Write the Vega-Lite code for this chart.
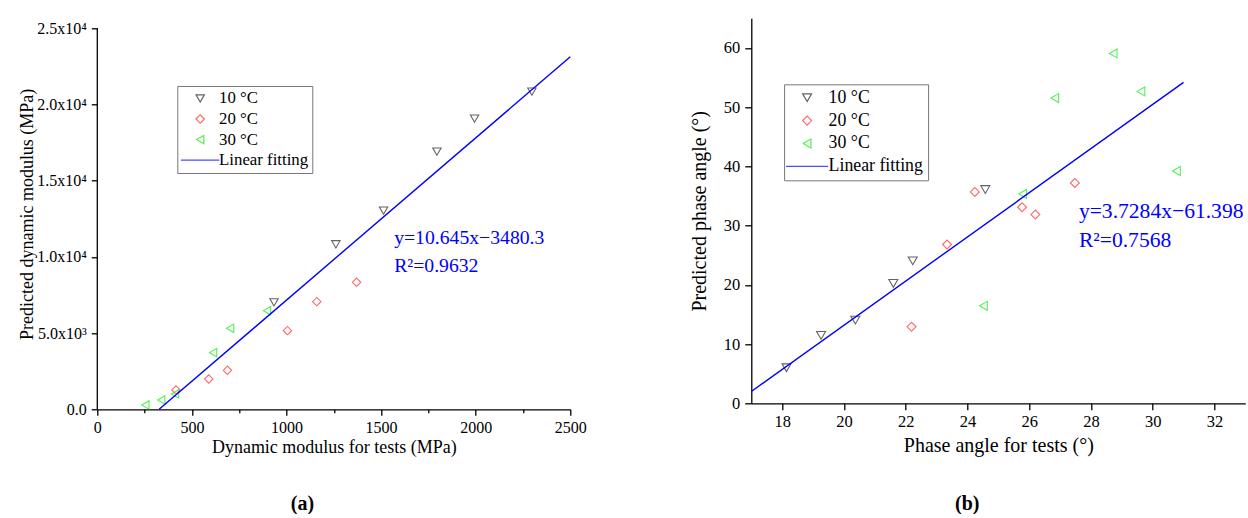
{
  "$schema": "https://vega.github.io/schema/vega-lite/v6.json",
  "background": "white",
  "padding": {"left": 18.3, "top": 18.3, "right": 5, "bottom": 0},
  "config": {
    "view": {"stroke": null},
    "font": "Liberation Serif",
    "axis": {"grid": false, "domainColor": "#000", "tickColor": "#000", "labelColor": "#000", "titleColor": "#000", "labelFont": "Liberation Serif", "titleFont": "Liberation Serif", "titleFontWeight": "normal", "domainWidth": 1.3, "tickWidth": 1.3, "labelOverlap": false, "labelFlush": false},
    "axisX": {"labelOverlap": false}
  },
  "datasets": {
    "left": [
      {"series": "10 °C", "x": 934, "y": 7021},
      {"series": "10 °C", "x": 1261, "y": 10827},
      {"series": "10 °C", "x": 1513, "y": 13036},
      {"series": "10 °C", "x": 1795, "y": 16907},
      {"series": "10 °C", "x": 1994, "y": 19073},
      {"series": "10 °C", "x": 2297, "y": 20844},
      {"series": "20 °C", "x": 416, "y": 1269},
      {"series": "20 °C", "x": 589, "y": 1990},
      {"series": "20 °C", "x": 688, "y": 2559},
      {"series": "20 °C", "x": 1005, "y": 5162},
      {"series": "20 °C", "x": 1160, "y": 7065},
      {"series": "20 °C", "x": 1370, "y": 8333},
      {"series": "30 °C", "x": 254, "y": 284},
      {"series": "30 °C", "x": 338, "y": 612},
      {"series": "30 °C", "x": 411, "y": 1006},
      {"series": "30 °C", "x": 612, "y": 3718},
      {"series": "30 °C", "x": 702, "y": 5315},
      {"series": "30 °C", "x": 897, "y": 6474}
    ],
    "leftaxis": [{"x": 0, "y": 0, "y2": 25000}],
    "leftfit": [{"x": 326.94, "y": 0}, {"x": 2500, "y": 23132.2}],
    "lefttext": [
      {"x": 1569, "y": 10846, "label": "y=10.645x−3480.3"},
      {"x": 1569, "y": 9029, "label": "R²=0.9632"}
    ],
    "right": [
      {"series": "10 °C", "x": 18.14, "y": 6.0},
      {"series": "10 °C", "x": 19.26, "y": 11.47},
      {"series": "10 °C", "x": 20.37, "y": 14.05},
      {"series": "10 °C", "x": 21.6, "y": 20.24},
      {"series": "10 °C", "x": 22.23, "y": 24.05},
      {"series": "10 °C", "x": 24.58, "y": 36.09},
      {"series": "20 °C", "x": 22.19, "y": 12.92},
      {"series": "20 °C", "x": 23.34, "y": 26.81},
      {"series": "20 °C", "x": 24.24, "y": 35.68},
      {"series": "20 °C", "x": 25.77, "y": 33.1},
      {"series": "20 °C", "x": 26.2, "y": 31.87},
      {"series": "20 °C", "x": 27.48, "y": 37.2},
      {"series": "30 °C", "x": 24.52, "y": 16.46},
      {"series": "30 °C", "x": 25.79, "y": 35.35},
      {"series": "30 °C", "x": 26.83, "y": 51.53},
      {"series": "30 °C", "x": 28.72, "y": 59.07},
      {"series": "30 °C", "x": 29.62, "y": 52.66},
      {"series": "30 °C", "x": 30.77, "y": 39.22}
    ],
    "rightfit": [{"x": 17, "y": 1.9848}, {"x": 31, "y": 54.1824}],
    "righttext": [
      {"x": 27.61, "y": 31.2, "label": "y=3.7284x−61.398"},
      {"x": 27.61, "y": 26.4, "label": "R²=0.7568"}
    ]
  },
  "resolve": {"scale": {"color": "independent", "shape": "independent"}, "legend": {"color": "independent", "shape": "independent"}},
  "spacing": 103,
  "align": "none",
  "hconcat": [
    {
      "width": 473,
      "height": 391,
      "title": {"text": "(a)", "orient": "bottom", "anchor": "middle", "frame": "bounds", "fontSize": 20, "fontWeight": "bold", "font": "Liberation Serif", "offset": 38, "color": "#000"},
      "layer": [
        {
          "data": {"name": "left"},
          "mark": {"type": "point", "filled": false, "size": 70, "strokeWidth": 1.1},
          "encoding": {
            "x": {"field": "x", "type": "quantitative", "scale": {"domain": [0, 2500], "nice": false, "zero": false},
              "axis": {"title": "Dynamic modulus for tests (MPa)", "values": [0, 250, 500, 750, 1000, 1250, 1500, 1750, 2000, 2250, 2500], "format": "d", "labelOverlap": false, "labelExpr": "datum.value % 500 === 0 ? datum.label : ''", "tickSize": {"condition": {"test": "datum.value % 500 === 0", "value": 6}, "value": 3.5}, "labelFontSize": 16, "titleFontSize": 18, "labelPadding": 4, "titlePadding": 3}},
            "y": {"field": "y", "type": "quantitative", "scale": {"domain": [0, 25656.2], "nice": false, "zero": false},
              "axis": {"title": "Predicted dynamic modulus (MPa)", "domain": false, "values": [0, 2500, 5000, 7500, 10000, 12500, 15000, 17500, 20000, 22500, 25000], "labelOverlap": false, "labelExpr": "datum.value === 0 ? '0.0' : datum.value % 5000 !== 0 ? '' : datum.value < 10000 ? format(datum.value / 1000, '.1f') + 'x10³' : format(datum.value / 10000, '.1f') + 'x10⁴'", "tickSize": {"condition": {"test": "datum.value % 5000 === 0", "value": 6}, "value": 3.5}, "labelFontSize": 16, "titleFontSize": 18, "labelPadding": 5, "titlePadding": 0}},
            "color": {"field": "series", "type": "nominal",
              "scale": {"domain": ["10 °C", "20 °C", "30 °C", "Linear fitting"], "range": ["#222222", "#ff2a2a", "#10e810", "#0000ff"]},
              "legend": {"title": null, "orient": "none", "legendX": 80, "legendY": 67.7, "padding": 4, "strokeColor": "#777", "labelFont": "Liberation Serif", "labelFontSize": 16.8, "labelColor": "#000", "symbolSize": 70, "symbolStrokeWidth": 1.2, "symbolOffset": 10.5, "labelOffset": 10.5, "rowPadding": 2.6, "labelLimit": 300}},
            "shape": {"field": "series", "type": "nominal",
              "scale": {"domain": ["10 °C", "20 °C", "30 °C", "Linear fitting"], "range": ["triangle-down", "diamond", "triangle-left", "M-4.59,0H4.59"]}}
          }
        },
        {
          "data": {"name": "leftaxis"},
          "mark": {"type": "rule", "color": "#000", "strokeWidth": 1.3},
          "encoding": {
            "x": {"field": "x", "type": "quantitative"},
            "y": {"field": "y", "type": "quantitative"},
            "y2": {"field": "y2"}
          }
        },
        {
          "data": {"name": "leftfit"},
          "mark": {"type": "line", "color": "#0000ff", "strokeWidth": 1.4},
          "encoding": {
            "x": {"field": "x", "type": "quantitative"},
            "y": {"field": "y", "type": "quantitative"}
          }
        },
        {
          "data": {"name": "lefttext"},
          "mark": {"type": "text", "align": "left", "baseline": "alphabetic", "fontSize": 19.7, "color": "#0000ff", "font": "Liberation Serif"},
          "encoding": {
            "x": {"field": "x", "type": "quantitative"},
            "y": {"field": "y", "type": "quantitative"},
            "text": {"field": "label"}
          }
        }
      ]
    },
    {
      "width": 494,
      "height": 385,
      "title": {"text": "(b)", "orient": "bottom", "anchor": "middle", "frame": "bounds", "fontSize": 20, "fontWeight": "bold", "font": "Liberation Serif", "offset": 39, "color": "#000"},
      "layer": [
        {
          "data": {"name": "right"},
          "mark": {"type": "point", "filled": false, "size": 80, "strokeWidth": 1.1},
          "encoding": {
            "x": {"field": "x", "type": "quantitative", "scale": {"domain": [17, 33], "nice": false, "zero": false},
              "axis": {"title": "Phase angle for tests (°)", "values": [18, 19, 20, 21, 22, 23, 24, 25, 26, 27, 28, 29, 30, 31, 32, 33], "format": "d", "labelOverlap": false, "labelExpr": "datum.value % 2 === 0 ? datum.label : ''", "tickSize": {"condition": {"test": "datum.value % 2 === 0", "value": 6.5}, "value": 3.5}, "labelFontSize": 16.5, "titleFontSize": 20, "labelPadding": 4, "titlePadding": 5}},
            "y": {"field": "y", "type": "quantitative", "scale": {"domain": [0, 65], "nice": false, "zero": false},
              "axis": {"title": "Predicted phase angle (°)", "values": [0, 5, 10, 15, 20, 25, 30, 35, 40, 45, 50, 55, 60, 65], "labelOverlap": false, "labelExpr": "datum.value % 10 === 0 ? datum.label : ''", "tickSize": {"condition": {"test": "datum.value % 10 === 0", "value": 6.5}, "value": 3.5}, "labelFontSize": 16.5, "titleFontSize": 20, "labelPadding": 5, "titlePadding": 14}},
            "color": {"field": "series", "type": "nominal",
              "scale": {"domain": ["10 °C", "20 °C", "30 °C", "Linear fitting"], "range": ["#222222", "#ff2a2a", "#10e810", "#0000ff"]},
              "legend": {"title": null, "orient": "none", "legendX": 32.8, "legendY": 66, "padding": 4.5, "strokeColor": "#777", "labelFont": "Liberation Serif", "labelFontSize": 17.8, "labelColor": "#000", "symbolSize": 80, "symbolStrokeWidth": 1.2, "symbolOffset": 9.6, "labelOffset": 12.6, "rowPadding": 3.9, "labelLimit": 300}},
            "shape": {"field": "series", "type": "nominal",
              "scale": {"domain": ["10 °C", "20 °C", "30 °C", "Linear fitting"], "range": ["triangle-down", "diamond", "triangle-left", "M-4.7,0H4.7"]}}
          }
        },
        {
          "data": {"name": "rightfit"},
          "mark": {"type": "line", "color": "#0000ff", "strokeWidth": 1.4},
          "encoding": {
            "x": {"field": "x", "type": "quantitative"},
            "y": {"field": "y", "type": "quantitative"}
          }
        },
        {
          "data": {"name": "righttext"},
          "mark": {"type": "text", "align": "left", "baseline": "alphabetic", "fontSize": 21.6, "color": "#0000ff", "font": "Liberation Serif"},
          "encoding": {
            "x": {"field": "x", "type": "quantitative"},
            "y": {"field": "y", "type": "quantitative"},
            "text": {"field": "label"}
          }
        }
      ]
    }
  ]
}
